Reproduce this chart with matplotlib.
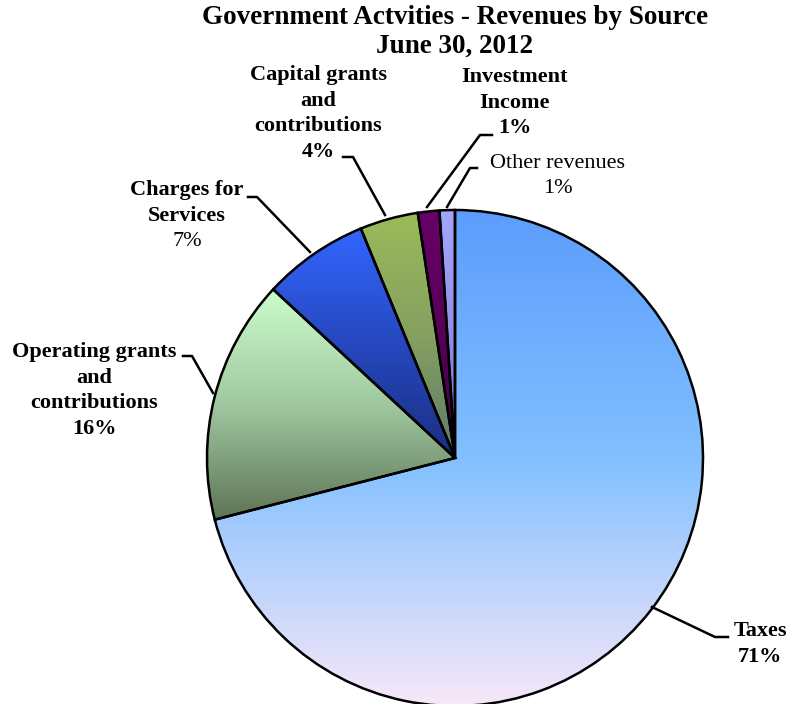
import numpy as np
import matplotlib.pyplot as plt
from matplotlib.colors import LinearSegmentedColormap

categories = ['Taxes', 'Operating grants\nand\ncontributions', 'Charges for\nServices',
              'Capital grants\nand\ncontributions', 'Investment\nIncome', 'Other revenues']
shares = [71.0, 15.9, 6.9, 3.8, 1.4, 1.0]
pct_labels = ['71%', '16%', '7%', '4%', '1%', '1%']

# top -> bottom gradient stops for each slice
grad_colors = [
    ['#5c9cfc', '#82c0ff', '#fae8f8'],
    ['#ccfccc', '#a0c8a0', '#5e7456'],
    ['#3366ff', '#2648c0', '#1b2f80'],
    ['#9bbb59', '#85a060', '#5f7a6a'],
    ['#680068', '#580058', '#400040'],
    ['#a4a4ff', '#9090e8', '#7070c0'],
]

W, H = 790, 704
fig = plt.figure(figsize=(W / 100, H / 100), dpi=100)
ax = fig.add_axes([0, 0, 1, 1])

cx, cy, r = 455, H - 458, 248
wedges, _ = ax.pie(shares, startangle=90, counterclock=False, center=(cx, cy), radius=r,
                   wedgeprops=dict(edgecolor='black', linewidth=1.8))

for w, cols in zip(wedges, grad_colors):
    verts = w.get_path().vertices
    x0, x1 = verts[:, 0].min(), verts[:, 0].max()
    y0, y1 = verts[:, 1].min(), verts[:, 1].max()
    cmap = LinearSegmentedColormap.from_list('g', cols)
    grad = np.linspace(0, 1, 256).reshape(-1, 1)
    im = ax.imshow(grad, cmap=cmap, extent=(x0, x1, y0, y1), origin='upper',
                   aspect='auto', zorder=1, interpolation='bilinear')
    im.set_clip_path(w)
    w.set_facecolor('none')
    w.set_zorder(2)

ax.set_xlim(0, W)
ax.set_ylim(0, H)
ax.set_aspect('equal')
ax.axis('off')

serif = 'Liberation Serif'
fig.text(455 / W, 1 - 18 / H, 'Government Actvities - Revenues by Source', ha='center', va='center',
         fontsize=19.5, fontweight='bold', family=serif)
fig.text(455 / W, 1 - 46 / H, 'June 30, 2012', ha='center', va='center',
         fontsize=19.5, fontweight='bold', family=serif)

# label anchors (center x, first line y) and leader lines (pixel coords, y down)
label_pos = [(760, 631), (94, 352), (187, 190), (318, 75), (515, 77), (558, 163)]
pct_bold = [True, True, False, True, True, False]
name_bold = [True, True, True, True, True, False]
leaders = [
    [(728, 637), (715, 637), (652, 607)],
    [(183, 356), (192, 356), (213, 393)],
    [(248, 197), (257, 197), (310, 252)],
    [(343, 157), (353, 157), (385, 215)],
    [(492, 135), (480, 135), (427, 207)],
    [(477, 168), (470, 168), (447, 207)],
]
step = 25.7
for name, pct, (lx, ly), pb, nb, pts in zip(categories, pct_labels, label_pos,
                                            pct_bold, name_bold, leaders):
    lines = name.split('\n')
    for i, ln in enumerate(lines):
        ax.text(lx, H - (ly + i * step), ln, ha='center', va='center', fontsize=16,
                fontweight='bold' if nb else 'normal', family=serif)
    ax.text(lx, H - (ly + len(lines) * step), pct, ha='center', va='center', fontsize=16,
            fontweight='bold' if pb else 'normal', family=serif)
    xs = [p[0] for p in pts]
    ys = [H - p[1] for p in pts]
    ax.plot(xs, ys, color='black', linewidth=1.8, zorder=3)

fig.savefig('out.png', dpi=100)
